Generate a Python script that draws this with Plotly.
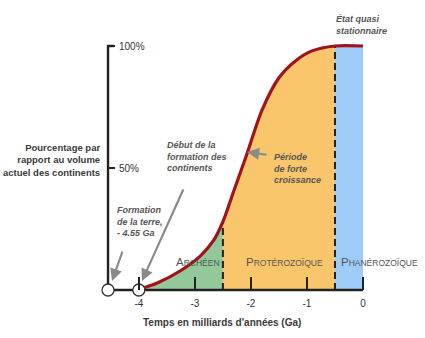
import numpy as np
import plotly.graph_objects as go

# ---- data ----
ga = [-4.0, -3.9, -3.66, -3.25, -2.9, -2.66, -2.5, -2.3, -2.09, -1.8, -1.5, -1.2, -0.91, -0.5, 0.0]
pct = [0, 1, 3, 8, 14, 20.5, 28, 41, 54.5, 73.8, 87, 94, 98, 100, 100]
eon_bounds = [-4.0, -2.5, -0.5, 0.0]
eon_names = ["Archéen", "Protérozoïque", "Phanérozoïque"]
eon_colors = ["#93c99a", "#f9c66b", "#9dccf8"]
x_ticks = [-4, -3, -2, -1, 0]
y_ticks = [50, 100]
y_ticktext = ["50%", "100%"]
earth_formation = -4.55
continents_start = -4.0

# ---- pixel mapping helpers (layout only) ----
W, H = 425, 338
PX0, PXPER = 363.0, 56.04   # pixel x of 0 Ga, pixels per Ga
PY0, PYPER = 290.0, 2.44    # pixel y of 0 %, pixels per %
xr = [(0 - PX0) / PXPER, (W - PX0) / PXPER]
yr = [(PY0 - H) / PYPER, PY0 / PYPER]
def dx(px): return (px - PX0) / PXPER
def dy(py): return (PY0 - py) / PYPER

ga_a = np.array(ga)
pct_a = np.array(pct)

fig = go.Figure()

# eon fills
for i in range(3):
    lo, hi = eon_bounds[i], eon_bounds[i + 1]
    m = (ga_a >= lo - 1e-9) & (ga_a <= hi + 1e-9)
    fig.add_trace(go.Scatter(x=ga_a[m], y=pct_a[m], mode="lines", fill="tozeroy",
                             fillcolor=eon_colors[i], line=dict(width=0, shape="spline"),
                             hoverinfo="skip", showlegend=False))

# dashed boundaries
for b in eon_bounds[1:3]:
    yb = float(np.interp(b, ga_a, pct_a))
    fig.add_trace(go.Scatter(x=[b, b], y=[0, yb], mode="lines",
                             line=dict(color="#222222", width=2, dash="7px,4px"),
                             hoverinfo="skip", showlegend=False))

# growth curve
fig.add_trace(go.Scatter(x=ga, y=pct, mode="lines",
                         line=dict(color="#a3121a", width=3.2, shape="spline", smoothing=0.8),
                         hoverinfo="skip", showlegend=False))

# axis lines
fig.add_trace(go.Scatter(x=[earth_formation, 0], y=[0, 0], mode="lines",
                         line=dict(color="#222222", width=2.4), hoverinfo="skip", showlegend=False))
fig.add_trace(go.Scatter(x=[earth_formation, earth_formation, earth_formation + 0.1],
                         y=[0, 100, 100], mode="lines",
                         line=dict(color="#222222", width=2.4), hoverinfo="skip", showlegend=False))

# circles
fig.add_trace(go.Scatter(x=[earth_formation, continents_start], y=[0, 0], mode="markers",
                         marker=dict(size=12, color="white", line=dict(color="#333333", width=1.3)),
                         hoverinfo="skip", showlegend=False, cliponaxis=False))

font_main = "Liberation Sans, Arial, sans-serif"

ann = []
def text(px, py, s, size=9, color="#555555", xanchor="left", yanchor="middle", align="left",
         xd=None, yd=None):
    ann.append(dict(x=dx(px) if xd is None else xd, y=dy(py) if yd is None else yd,
                    xref="x", yref="y", text=s, showarrow=False,
                    xanchor=xanchor, yanchor=yanchor, align=align,
                    font=dict(family=font_main, size=size, color=color)))

def arrow(hx, hy, tx, ty):
    ann.append(dict(x=dx(hx), y=dy(hy), xref="x", yref="y", ax=tx - hx, ay=ty - hy,
                    text="", showarrow=True, arrowhead=2, arrowsize=1.1, arrowwidth=2.2,
                    arrowcolor="#8a8a8a"))

# y tick labels
for v, t in zip(y_ticks, y_ticktext):
    text(117, 0, t, size=10, color="#333333", yd=v)

# y title
text(102, 160, "<b>Pourcentage par<br>rapport au volume<br>actuel des continents</b>",
     size=9.5, color="#3a3a3a", xanchor="right", align="right")
# x title
text(222, 322, "<b>Temps en milliards d'années (Ga)</b>", size=10, color="#3a3a3a",
     xanchor="center", align="center")

# italic notes
text(334, 25, "<b><i>État quasi<br>stationnaire</i></b>", size=9)
text(165, 156, "<b><i>Début de la<br>formation des<br>continents</i></b>", size=9)
text(272, 168, "<b><i>Période<br>de forte<br>croissance</i></b>", size=9)
text(115, 221, "<b><i>Formation<br>de la terre,<br>- 4.55 Ga</i></b>", size=9)

# eon labels in small caps
def smallcaps(s):
    s = s.upper()
    return s[0] + "<span style='font-size:8.5px'>" + s[1:] + "</span>"
text(222, 262, smallcaps(eon_names[0]), size=11.5, color="#555555", xanchor="right")
text(244, 262, smallcaps(eon_names[1]), size=11.5, color="#555555")
text(339, 262, smallcaps(eon_names[2]), size=11.5, color="#555555")

arrow(247, 152, 268, 155)
arrow(142, 281, 184, 188)
arrow(112, 281, 123, 250)

fig.update_layout(
    width=W, height=H, margin=dict(l=0, r=0, t=0, b=0),
    paper_bgcolor="white", plot_bgcolor="white",
    annotations=ann,
    xaxis=dict(range=xr, domain=[0, 1], anchor="free", position=(H - PY0) / H,
               showgrid=False, zeroline=False, showline=False,
               tickmode="array", tickvals=x_ticks, ticktext=[str(t) for t in x_ticks],
               ticks="inside", ticklen=13, tickwidth=2, tickcolor="#222222",
               ticklabelstandoff=6,
               tickfont=dict(family=font_main, size=10, color="#333333")),
    yaxis=dict(range=yr, domain=[0, 1], anchor="free", position=(PX0 - 4.55 * PXPER) / W,
               showgrid=False, zeroline=False, showline=False, showticklabels=False,
               tickmode="array", tickvals=y_ticks,
               ticks="inside", ticklen=6, tickwidth=2, tickcolor="#222222"),
)

fig.write_html("out.html")
